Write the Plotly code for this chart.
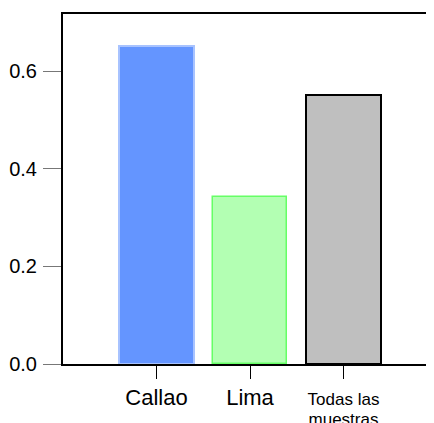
import plotly.graph_objects as go

categories = ["Callao", "Lima", "Todas las muestras"]
tick_labels = [
    "<span style='font-size:22px'>Callao</span>",
    "<span style='font-size:22px'>Lima</span>",
    "<span style='font-size:17px'>Todas las</span><br><span style='font-size:17px'>muestras</span>",
]
values = [0.651, 0.342, 0.551]
fill_colors = ["#6495ff", "#b3ffb3", "#bfbfbf"]
line_colors = ["#a8c3ff", "#66ff66", "#000000"]
line_widths = [2, 1.5, 2]
y_ticks = [0.0, 0.2, 0.4, 0.6]
y_tick_labels = ["0.0", "0.2", "0.4", "0.6"]

fig = go.Figure()
for i, (c, v) in enumerate(zip(categories, values)):
    fig.add_trace(go.Bar(
        x=[i], y=[v], width=0.8,
        marker=dict(color=fill_colors[i], line=dict(color=line_colors[i], width=line_widths[i])),
        showlegend=False, hoverinfo="skip",
    ))

fig.update_layout(
    width=434, height=423,
    margin=dict(l=55, r=8, t=6, b=67, autoexpand=False),
    plot_bgcolor="white", paper_bgcolor="white",
    font=dict(family="Liberation Sans, Arial, sans-serif", color="black"),
    bargap=0,
)
fig.update_xaxes(
    range=[-1.0, 2.968], automargin=False,
    tickvals=list(range(len(categories))), ticktext=tick_labels,
    tickfont=dict(size=15), ticklabelstandoff=8,
    ticks="outside", ticklen=13, tickwidth=1, tickcolor="black",
    showline=True, linecolor="black", linewidth=2, mirror=True,
    showgrid=False, zeroline=False,
)
fig.update_yaxes(
    range=[0, 0.717], automargin=False,
    tickvals=y_ticks, ticktext=y_tick_labels,
    tickfont=dict(size=20), ticklabelstandoff=2,
    ticks="outside", ticklen=18, tickwidth=1, tickcolor="#777777",
    showline=True, linecolor="black", linewidth=2,
    showgrid=False, zeroline=False,
)
fig.write_html("out.html")
